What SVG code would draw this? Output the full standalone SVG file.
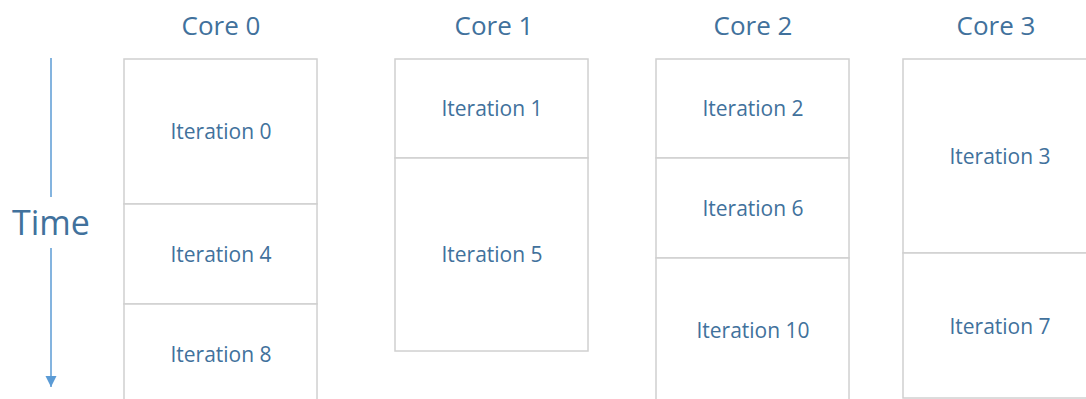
<svg xmlns="http://www.w3.org/2000/svg" width="1086" height="399" viewBox="0 0 1086 399">
  <style>
    .cell { fill: #ffffff; stroke: #d0d0d0; stroke-width: 1.5; }
    .lbl { font-family: "Open Sans", "Liberation Sans", sans-serif; fill: #41719c; text-anchor: middle; }
    .it { font-size: 21px; }
    .core { font-size: 26px; }
    .time { font-size: 34px; }
    .axis { stroke: #5b9bd5; stroke-width: 1.5; fill: none; }
  </style>
  <defs>
    <marker id="head" markerUnits="userSpaceOnUse" markerWidth="12" markerHeight="12" refX="11" refY="6" orient="auto">
      <path d="M0,0.5 L11,6 L0,11.5 Z" fill="#5b9bd5"/>
    </marker>
  </defs>
  <rect width="1086" height="399" fill="#ffffff"/>

  <!-- column headings -->
  <g id="headings">
    <text class="lbl core" x="221" y="35">Core 0</text>
    <text class="lbl core" x="494" y="35">Core 1</text>
    <text class="lbl core" x="753" y="35">Core 2</text>
    <text class="lbl core" x="996" y="35">Core 3</text>
  </g>

  <!-- time axis -->
  <g id="time-label">
    <text class="lbl time" x="51" y="235">Time</text>
  </g>
  <g id="connectors">
    <line class="axis" x1="51" y1="58" x2="51" y2="197"/>
    <line class="axis" x1="51" y1="248" x2="51" y2="387" marker-end="url(#head)"/>
  </g>

  <!-- Core 0 -->
  <g id="iter0"><rect class="cell" x="124" y="59" width="193" height="145"/><text class="lbl it" x="221" y="139">Iteration 0</text></g>
  <g id="iter4"><rect class="cell" x="124" y="204" width="193" height="100"/><text class="lbl it" x="221" y="261.5">Iteration 4</text></g>
  <g id="iter8"><rect class="cell" x="124" y="304" width="193" height="110"/><text class="lbl it" x="221" y="361.5">Iteration 8</text></g>

  <!-- Core 1 -->
  <g id="iter1"><rect class="cell" x="395" y="59" width="193" height="99"/><text class="lbl it" x="492" y="116">Iteration 1</text></g>
  <g id="iter5"><rect class="cell" x="395" y="158" width="193" height="193"/><text class="lbl it" x="492" y="262">Iteration 5</text></g>

  <!-- Core 2 -->
  <g id="iter2"><rect class="cell" x="656" y="59" width="193" height="99"/><text class="lbl it" x="753" y="116">Iteration 2</text></g>
  <g id="iter6"><rect class="cell" x="656" y="158" width="193" height="100"/><text class="lbl it" x="753" y="215.5">Iteration 6</text></g>
  <g id="iter10"><rect class="cell" x="656" y="258" width="193" height="150"/><text class="lbl it" x="753" y="337.5">Iteration 10</text></g>

  <!-- Core 3 -->
  <g id="iter3"><rect class="cell" x="903" y="59" width="200" height="194"/><text class="lbl it" x="1000" y="163.5">Iteration 3</text></g>
  <g id="iter7"><rect class="cell" x="903" y="253" width="200" height="145"/><text class="lbl it" x="1000" y="333.5">Iteration 7</text></g>
</svg>
